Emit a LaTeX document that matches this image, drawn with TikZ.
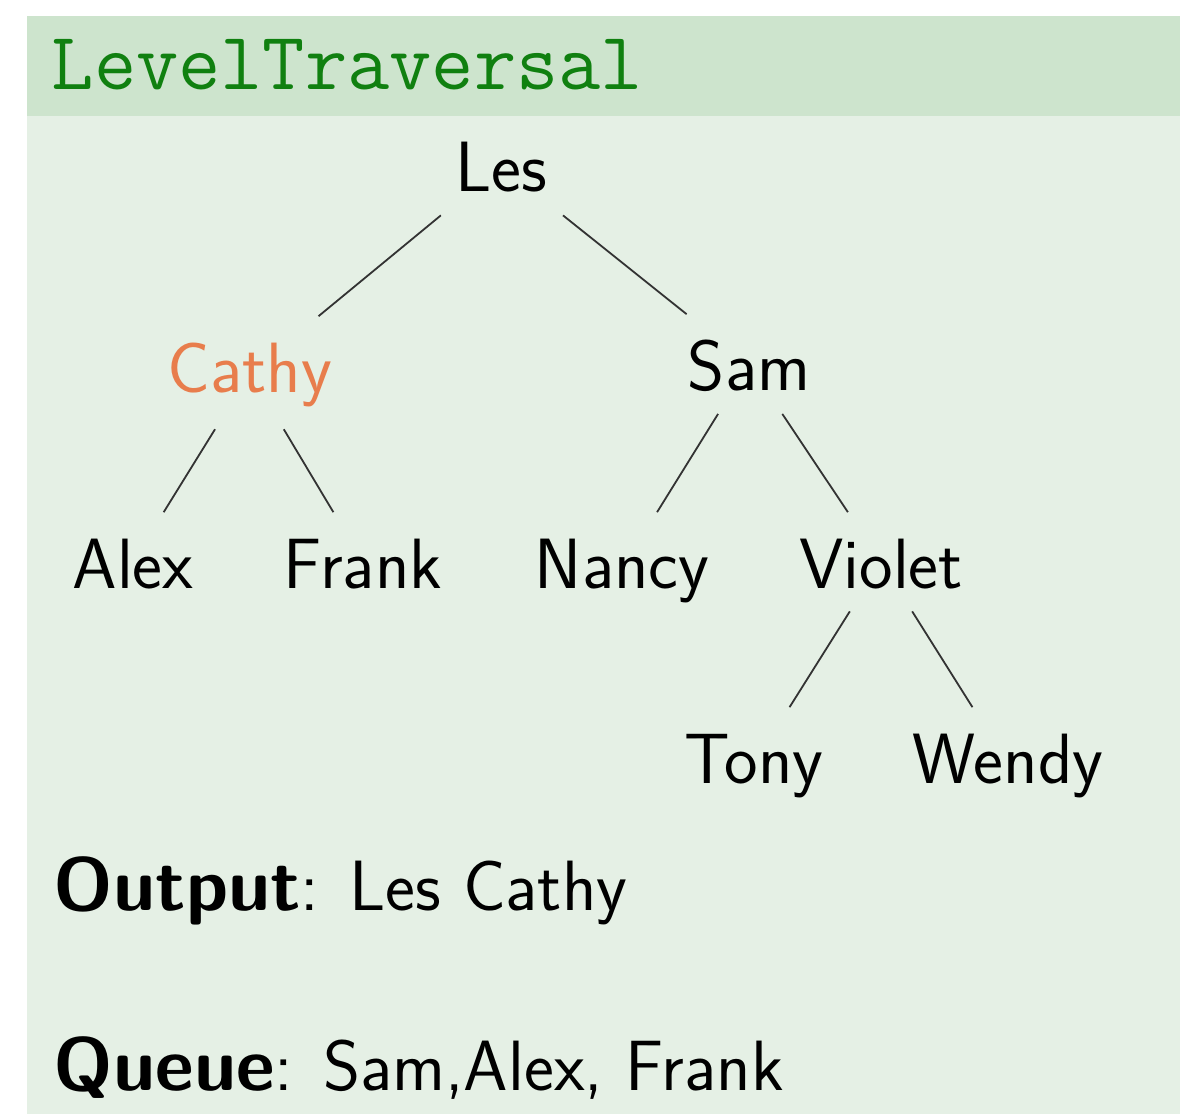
\documentclass[tikz,border=0pt]{standalone}
\usepackage{tikz}
\definecolor{blockhead}{RGB}{205,228,205}
\definecolor{blockbody}{RGB}{229,240,229}
\definecolor{titlegreen}{RGB}{16,128,16}
\definecolor{cathyorange}{RGB}{232,125,76}
\newcommand{\keyword}[1]{{\fontsize{18.8}{22}\selectfont\bfseries #1}}

\begin{document}
\begin{tikzpicture}[x=0.25pt,y=-0.25pt,font=\fontsize{17.8}{21}\selectfont\sffamily]
  \tikzstyle{person}=[anchor=base,inner sep=5.5pt,text height=13.25pt]
  \tikzstyle{branch}=[draw=black!80,line width=0.45pt]
  \tikzstyle{line}=[anchor=base west,inner sep=0pt]

  \useasboundingbox (0,0) rectangle (1180,1114);
  \fill[blockbody] (27,116) rectangle (1180,1114);
  \fill[blockhead] (27,16) rectangle (1180,116);

  \node[line,text=titlegreen,font=\fontsize{20.5}{24}\selectfont\ttfamily] (title) at (51,90) {LevelTraversal};

  \foreach \name/\txt/\x/\y in {les/Les/501/192, sam/Sam/749/390,
    alex/Alex/133/588, frank/Frank/363/588, nancy/Nancy/622/588,
    violet/Violet/881/588, tony/Tony/754/783, wendy/Wendy/1008/783}
    \node[person] (\name) at (\x,\y) {\txt};
  \node[person,text=cathyorange] (cathy) at (250,392) {Cathy};

  \foreach \source/\dest in {les/cathy, les/sam, cathy/alex, cathy/frank,
    sam/nancy, sam/violet, violet/tony, violet/wendy}
    \draw[branch] (\source) -- (\dest);

  \node[line] (output) at (53,910) {\keyword{Output}: Les Cathy};
  \node[line] (queue) at (53,1090) {\keyword{Queue}: Sam,Alex, Frank};
\end{tikzpicture}
\end{document}
